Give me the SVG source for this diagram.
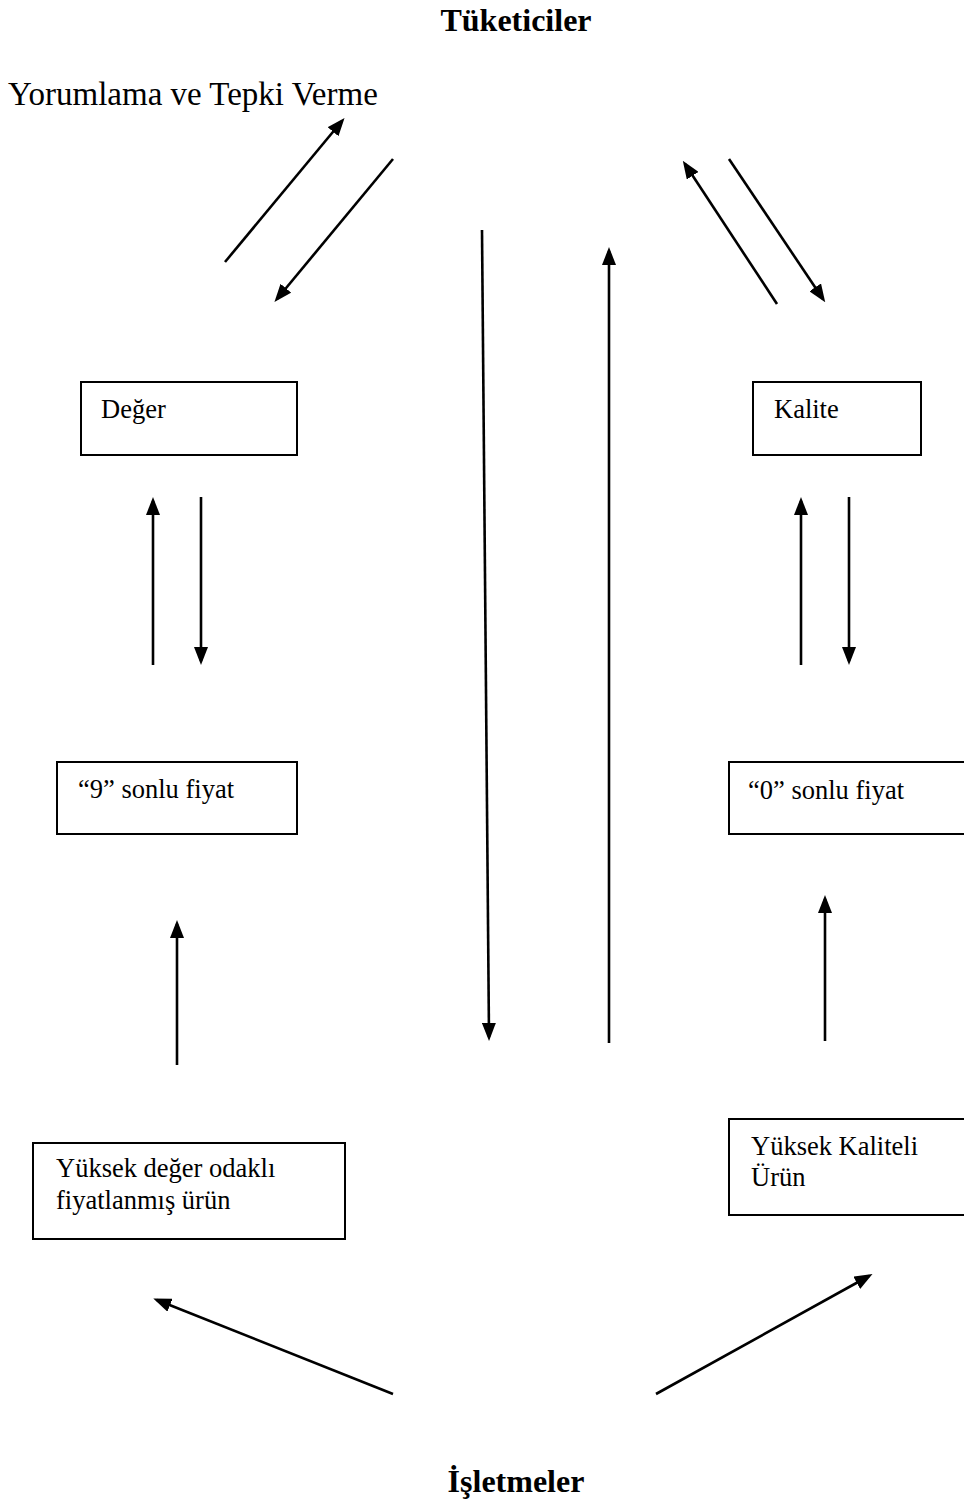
<svg xmlns="http://www.w3.org/2000/svg" width="964" height="1510" viewBox="0 0 964 1510">
<style>
text{font-family:"Liberation Serif","Times New Roman",serif;fill:#000}
.t{font-size:26.5px}
.h{font-size:32px;font-weight:bold}
.big{font-size:33px}
rect{fill:#fff;stroke:#000;stroke-width:2}
line{stroke:#000;stroke-width:2.6;fill:none;marker-end:url(#ah)}
</style>
<defs>
<marker id="ah" markerUnits="userSpaceOnUse" markerWidth="18" markerHeight="14" refX="14" refY="7" orient="auto" viewBox="0 0 18 14">
<path d="M0,0 L18,7 L0,14 z" fill="#000"/>
</marker>
</defs>
<rect width="964" height="1510" style="stroke:none;fill:#fff"/>
<g id="tuketiciler"><text class="h" x="516" y="31" text-anchor="middle">Tüketiciler</text></g>
<g id="yorumlama"><text class="big" x="8" y="105">Yorumlama ve Tepki Verme</text></g>
<g id="deger"><rect x="81" y="382" width="216" height="73"/><text class="t" x="101" y="418">Değer</text></g>
<g id="kalite"><rect x="753" y="382" width="168" height="73"/><text class="t" x="774" y="418">Kalite</text></g>
<g id="sonlu9"><rect x="57" y="762" width="240" height="72"/><text class="t" x="78" y="798">“9” sonlu fiyat</text></g>
<g id="sonlu0"><rect x="729" y="762" width="250" height="72"/><text class="t" x="748" y="799">“0” sonlu fiyat</text></g>
<g id="yuksekdeger"><rect x="33" y="1143" width="312" height="96"/><text class="t" x="56" y="1177">Yüksek değer odaklı</text><text class="t" x="56" y="1209">fiyatlanmış ürün</text></g>
<g id="yuksekkalite"><rect x="729" y="1119" width="250" height="96"/><text class="t" x="751" y="1155">Yüksek Kaliteli</text><text class="t" x="751" y="1186">Ürün</text></g>
<g id="isletmeler"><text class="h" x="516" y="1492" text-anchor="middle">İşletmeler</text></g>
<g id="connectors">
<line x1="225" y1="262" x2="342" y2="121"/>
<line x1="393" y1="159" x2="277" y2="299"/>
<line x1="777" y1="304" x2="685" y2="164"/>
<line x1="729" y1="159" x2="823" y2="299"/>
<line x1="482" y1="230" x2="489" y2="1037"/>
<line x1="609" y1="1043" x2="609" y2="251"/>
<line x1="153" y1="665" x2="153" y2="501"/>
<line x1="201" y1="497" x2="201" y2="661"/>
<line x1="801" y1="665" x2="801" y2="501"/>
<line x1="849" y1="497" x2="849" y2="661"/>
<line x1="177" y1="1065" x2="177" y2="924"/>
<line x1="825" y1="1041" x2="825" y2="899"/>
<line x1="393" y1="1394" x2="157" y2="1300"/>
<line x1="656" y1="1394" x2="869" y2="1276"/>
</g>
</svg>
